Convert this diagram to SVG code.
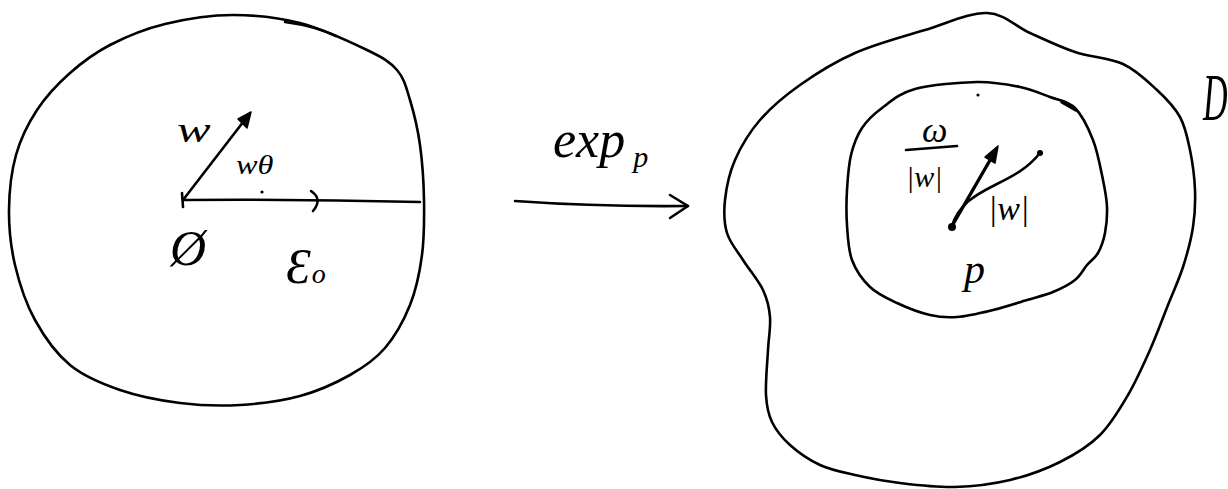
<svg xmlns="http://www.w3.org/2000/svg" width="1228" height="489" viewBox="0 0 1228 489">
<style>
.ln{fill:none;stroke:#000;stroke-width:2.6;stroke-linecap:round;stroke-linejoin:round}
.thick{fill:none;stroke:#000;stroke-width:3.4;stroke-linecap:round;stroke-linejoin:round}
.hd{fill:#000;stroke:#000;stroke-width:1.5;stroke-linejoin:round}
.t{font-family:"Liberation Serif","DejaVu Serif",serif;font-style:italic;fill:#000}
</style>
<rect width="1228" height="489" fill="#fff"/>
<g id="tangent-ball">
<path class="ln" d="M233,15 C255.5,15 277.7,17.2 300,23 S350.8,42.2 367,50 S389.8,61.7 397,70 S406.2,87.5 410,100 S417.7,128.3 420,145 S423.7,181.7 424,200 S424.3,237.5 422,255 S416.2,289.5 410,305 S395,336.3 385,348 S364.2,367 350,375 S318.3,391 300,396 S260,403.8 240,405 S200,405.5 180,403 S138.3,396.3 120,390 S84.2,376.7 70,365 S44.2,336.7 35,320 S19.3,283.3 15,265 S8.8,228.3 9,210 S11.3,171.7 16,155 S28,123.7 37,110 S57.8,83.8 70,73 S94.2,53.2 110,45 S144.5,29 165,24 S210.5,15 233,15 Z"/>
<path class="ln" d="M285,22 Q315,26 336,36" stroke-width="1.6"/>
<path class="ln" d="M183,200 Q300,199 420,202"/>
<path class="ln" d="M182,193 L183,207"/>
<path class="ln" d="M311,191 Q323,199 313,211"/>
<circle cx="262" cy="192" r="1.6" fill="#000"/>
<path class="ln" d="M183,200 L247,117"/>
<polygon class="hd" points="251,112 238,119 247,128"/>
<text class="t" transform="translate(177,142) scale(1.4,1)" font-size="36">w</text>
<text class="t" transform="translate(236,174) scale(1.2,1)" font-size="27">wθ</text>
<text class="t" x="170" y="265" font-size="50" font-style="normal">Ø</text>
<text class="t" x="286" y="283" font-size="50" font-style="normal">Ɛ<tspan font-size="28" dx="1">o</tspan></text>
</g>
<g id="connectors">
<path class="ln" d="M515,201 Q600,207 688,206"/>
<path class="ln" d="M670,195 L688,206 L670,218"/>
<text class="t" x="553" y="157" font-size="52">exp<tspan font-size="30" dx="8" dy="10">p</tspan></text>
</g>
<g id="manifold">
<path class="ln" d="M987,13 C1004.5,13.5 1015.3,26.5 1030,33 S1059.5,46.8 1075,52 S1109.3,57.7 1123,64 S1147.5,81.2 1157,90 S1174.5,107 1180,117 S1187.5,137.8 1190,150 S1194.5,177.2 1195,190 S1195,214.2 1193,227 S1187.2,254 1183,267 S1173.5,291.2 1168,305 S1156.7,335 1150,350 S1136.3,380.8 1128,395 S1111.3,423.8 1100,435 S1075,454.5 1060,462 S1027.5,475.8 1010,480 S973.3,486.5 955,487 S916.7,485 900,483 S868.3,478 855,475 S830.8,470 820,465 S798,452.2 790,445 S776,430.3 772,422 S766.7,407 766,395 S767.3,363 768,350 S770.8,327 770,317 S767.5,299.5 763,290 S749,269.5 743,260 S730,243 727,233 S723.7,212.2 725,200 S729.2,173.3 735,160 S749.2,132.5 760,120 S784.2,96.2 800,85 S834.2,62.2 855,53 S903,36.7 925,30 S969.5,12.5 987,13 Z"/>
<text class="t" transform="translate(1203,120) scale(0.5,1)" font-size="68" font-style="normal">D</text>
</g>
<g id="geodesic-ball">
<path class="ln" d="M977,82 C994.5,81.7 1007.8,84.5 1020,87 S1040.8,93.5 1050,97 S1067.8,100.8 1075,108 S1088.3,128 1093,140 S1100.7,168.8 1103,180 S1106.7,198.2 1107,207 S1106.5,225.3 1105,233 S1101,247.7 1098,253 S1090.8,260.5 1087,265 S1080.7,275.5 1075,280 S1061,288.7 1053,292 S1037,297 1027,300 S1004.7,307.2 993,310 S967.5,316.2 957,317 S940,317.3 930,315 S907,307.7 897,303 S877.5,294.2 870,287 S855.8,270.3 852,260 S847.8,236.7 847,225 S846.3,201.7 847,190 S848.5,165.3 851,155 S856.8,135.8 862,128 S873.2,114.5 882,108 S899.2,93.3 915,89 S959.5,82.3 977,82 Z"/>
<path class="thick" d="M1062,102 L1076,110"/>
<circle cx="978" cy="95" r="1.6" fill="#000"/>
<path class="thick" d="M952,226 L993,155"/>
<polygon class="hd" points="998,146 985,157 995,163"/>
<path class="ln" d="M952,226 C958,205 975,195 995,185 S1028,168 1040,153"/>
<circle cx="952" cy="227" r="4" fill="#000"/>
<circle cx="1040" cy="153" r="3" fill="#000"/>
<text class="t" x="922" y="142" font-size="36">ω</text>
<path class="ln" d="M906,150 L957,146"/>
<text class="t" x="906" y="187" font-size="30">|w|</text>
<text class="t" x="988" y="220" font-size="34">|w|</text>
<text class="t" x="964" y="283" font-size="42">p</text>
</g>
</svg>
